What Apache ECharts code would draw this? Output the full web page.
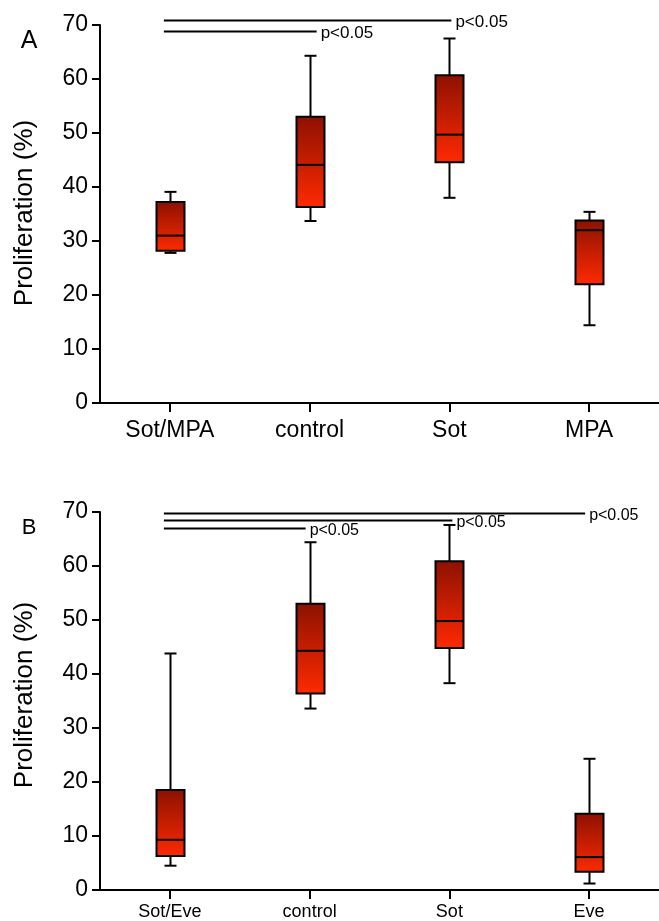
<!DOCTYPE html>
<html>
<head>
<meta charset="utf-8">
<title>Proliferation</title>
<script src="https://cdn.jsdelivr.net/npm/echarts@6/dist/echarts.min.js"></script>
<style>
  html, body { margin: 0; padding: 0; background: #fff; }
  #chart { width: 659px; height: 921px; }
</style>
</head>
<body>
<div id="chart"></div>
<script>
// Panel A: sotorasib / MPA combination
const categoriesA = ['Sot/MPA', 'control', 'Sot', 'MPA'];
// [whisker low, Q1, median, Q3, whisker high]
const boxesA = [
  [27.8, 28.2, 31.0, 37.2, 39.1],
  [33.7, 36.3, 44.1, 53.0, 64.3],
  [38.0, 44.6, 49.7, 60.7, 67.5],
  [14.4, 22.0, 32.0, 33.8, 35.4]
];
const sigA_to = [2, 1];
const sigA_level = [70.9, 68.9];
const sigA_text = ['p<0.05', 'p<0.05'];

// Panel B: sotorasib / everolimus combination
const categoriesB = ['Sot/Eve', 'control', 'Sot', 'Eve'];
const boxesB = [
  [4.5, 6.3, 9.3, 18.5, 43.8],
  [33.6, 36.4, 44.3, 53.0, 64.4],
  [38.3, 44.8, 49.8, 60.9, 67.6],
  [1.2, 3.4, 6.1, 14.1, 24.3]
];
const sigB_to = [3, 2, 1];
const sigB_level = [69.9, 68.6, 67.1];
const sigB_text = ['p<0.05', 'p<0.05', 'p<0.05'];

const yTicks = [0, 10, 20, 30, 40, 50, 60, 70];

const FONT = '"Liberation Sans", Arial, sans-serif';
const INK = '#000';

// pixel nudges for where each comparison bar stops
const endNudgeA = [2, 7];
const endNudgeB = [-4, 3, -4];

function boxRender(params, api) {
  const i = api.value(0);
  const lo = api.coord([i, api.value(1)]);
  const q1 = api.coord([i, api.value(2)]);
  const med = api.coord([i, api.value(3)]);
  const q3 = api.coord([i, api.value(4)]);
  const hi = api.coord([i, api.value(5)]);
  const x = Math.round(hi[0]) + 0.5;
  const bw = 28, cw = 12;
  const line = { stroke: INK, lineWidth: 2 };
  return {
    type: 'group',
    children: [
      { type: 'line', shape: { x1: x, y1: hi[1], x2: x, y2: q3[1] }, style: line },
      { type: 'line', shape: { x1: x, y1: q1[1], x2: x, y2: lo[1] }, style: line },
      { type: 'line', shape: { x1: x - cw / 2, y1: hi[1], x2: x + cw / 2, y2: hi[1] }, style: line },
      { type: 'line', shape: { x1: x - cw / 2, y1: lo[1], x2: x + cw / 2, y2: lo[1] }, style: line },
      {
        type: 'rect',
        shape: { x: x - bw / 2, y: q3[1], width: bw, height: q1[1] - q3[1] },
        style: {
          fill: new echarts.graphic.LinearGradient(0, 0, 0, 1, [
            { offset: 0, color: '#8c1100' },
            { offset: 1, color: '#ff2a00' }
          ]),
          stroke: INK,
          lineWidth: 2
        }
      },
      { type: 'line', shape: { x1: x - bw / 2, y1: med[1], x2: x + bw / 2, y2: med[1] }, style: line }
    ]
  };
}

function sigRender(nudges, fontSize) {
  return function (params, api) {
    const to = api.value(1);
    const level = api.value(2);
    const start = api.coord([api.value(0), level]);
    const end = api.coord([to, level]);
    const x1 = start[0] - 6;
    const x2 = end[0] + nudges[params.dataIndex];
    const y = Math.round(start[1]) + 0.5;
    return {
      type: 'group',
      children: [
        { type: 'line', shape: { x1: x1, y1: y, x2: x2, y2: y }, style: { stroke: INK, lineWidth: 2 } },
        {
          type: 'text',
          x: x2 + 4, y: y + 2,
          style: {
            text: api.value(3),
            fill: INK,
            font: fontSize + 'px ' + FONT,
            textAlign: 'left',
            textVerticalAlign: 'middle'
          }
        }
      ]
    };
  };
}

function boxData(boxes) {
  return boxes.map((b, i) => [i].concat(b));
}
function sigData(toList, levels, texts) {
  return toList.map((t, i) => [0, t, levels[i], texts[i]]);
}

function xAxisFor(grid, cats, fontSize, margin) {
  return {
    type: 'category',
    gridIndex: grid,
    data: cats,
    boundaryGap: true,
    axisLine: { show: true, lineStyle: { color: INK, width: 2 } },
    axisTick: { show: true, alignWithLabel: true, length: 9, lineStyle: { color: INK, width: 2 } },
    axisLabel: { color: INK, fontSize: fontSize, fontFamily: FONT, margin: margin },
    splitLine: { show: false }
  };
}
function yAxisFor(grid) {
  return {
    type: 'value',
    gridIndex: grid,
    min: yTicks[0],
    max: yTicks[yTicks.length - 1],
    interval: 10,
    axisLine: { show: true, lineStyle: { color: INK, width: 2 } },
    axisTick: { show: true, length: 8, lineStyle: { color: INK, width: 2 } },
    axisLabel: { color: INK, fontSize: 23, fontFamily: FONT, margin: 12 },
    splitLine: { show: false }
  };
}

const chart = echarts.init(document.getElementById('chart'), null, { renderer: 'canvas' });
chart.setOption({
  animation: false,
  backgroundColor: '#fff',
  grid: [
    { left: 100, top: 25, width: 568, height: 378 },
    { left: 100, top: 512, width: 568, height: 378 }
  ],
  xAxis: [xAxisFor(0, categoriesA, 23, 16), xAxisFor(1, categoriesB, 18, 13)],
  yAxis: [yAxisFor(0), yAxisFor(1)],
  graphic: [
    { type: 'text', x: 29, y: 41, style: { text: 'A', font: '25px ' + FONT, fill: INK, textAlign: 'center', textVerticalAlign: 'middle' } },
    { type: 'text', x: 29, y: 528, style: { text: 'B', font: '22px ' + FONT, fill: INK, textAlign: 'center', textVerticalAlign: 'middle' } },
    { type: 'text', x: 25, y: 213, rotation: Math.PI / 2, style: { text: 'Proliferation (%)', font: '26px ' + FONT, fill: INK, textAlign: 'center', textVerticalAlign: 'middle' } },
    { type: 'text', x: 25, y: 695, rotation: Math.PI / 2, style: { text: 'Proliferation (%)', font: '26px ' + FONT, fill: INK, textAlign: 'center', textVerticalAlign: 'middle' } }
  ],
  series: [
    { type: 'custom', xAxisIndex: 0, yAxisIndex: 0, renderItem: boxRender, encode: { x: 0, y: [1, 2, 3, 4, 5] }, data: boxData(boxesA), clip: false },
    { type: 'custom', xAxisIndex: 1, yAxisIndex: 1, renderItem: boxRender, encode: { x: 0, y: [1, 2, 3, 4, 5] }, data: boxData(boxesB), clip: false },
    { type: 'custom', xAxisIndex: 0, yAxisIndex: 0, renderItem: sigRender(endNudgeA, 17), encode: { x: [0, 1], y: 2 }, data: sigData(sigA_to, sigA_level, sigA_text), clip: false, z: 3 },
    { type: 'custom', xAxisIndex: 1, yAxisIndex: 1, renderItem: sigRender(endNudgeB, 16), encode: { x: [0, 1], y: 2 }, data: sigData(sigB_to, sigB_level, sigB_text), clip: false, z: 3 }
  ]
});
</script>
</body>
</html>
